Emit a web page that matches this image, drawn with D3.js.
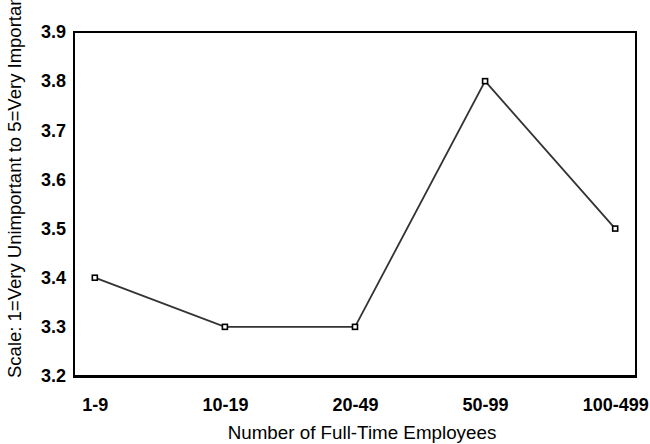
<!DOCTYPE html>
<html>
<head>
<meta charset="utf-8">
<style>
body { margin: 0; background: #fff; }
svg { display: block; font-family: "Liberation Sans", Arial, sans-serif; }
</style>
</head>
<body>
<svg width="650" height="444"></svg>
<script src="https://cdn.jsdelivr.net/npm/d3@7"></script>
<script>
var categories = ["1-9", "10-19", "20-49", "50-99", "100-499"];
var values = [3.4, 3.3, 3.3, 3.8, 3.5];
var yTicks = [3.2, 3.3, 3.4, 3.5, 3.6, 3.7, 3.8, 3.9];

var svg = d3.select("svg"),
    margin = {top: 32, right: 14, bottom: 68, left: 74},
    width = +svg.attr("width") - margin.left - margin.right,
    height = +svg.attr("height") - margin.top - margin.bottom,
    g = svg.append("g").attr("transform", "translate(" + margin.left + "," + margin.top + ")");

var x = d3.scalePoint()
    .domain(categories)
    .range([0, width])
    .padding(0.16);

var y = d3.scaleLinear()
    .domain([3.2, 3.9])
    .range([height, 0]);

// frame
g.append("rect")
    .attr("width", width)
    .attr("height", height)
    .attr("fill", "none")
    .attr("stroke", "#000")
    .attr("stroke-width", 2);
g.append("line")
    .attr("x1", -1).attr("x2", width + 1)
    .attr("y1", height + 0.5).attr("y2", height + 0.5)
    .attr("stroke", "#000")
    .attr("stroke-width", 3);

// y axis labels
var yAxis = g.append("g")
    .call(d3.axisLeft(y).tickValues(yTicks).tickFormat(d3.format(".1f")).tickSize(0).tickPadding(8));
yAxis.select(".domain").remove();
yAxis.selectAll("text")
    .attr("font-size", 18)
    .attr("font-weight", "bold")
    .attr("fill", "#000")
    .attr("font-family", "'Liberation Sans', Arial, sans-serif");

// x axis labels
var xAxis = g.append("g")
    .attr("transform", "translate(0," + height + ")")
    .call(d3.axisBottom(x).tickSize(0).tickPadding(22));
xAxis.select(".domain").remove();
xAxis.selectAll("text")
    .attr("font-size", 18)
    .attr("font-weight", "bold")
    .attr("fill", "#000")
    .attr("font-family", "'Liberation Sans', Arial, sans-serif");

// line
var line = d3.line()
    .x(function(d, i) { return x(categories[i]); })
    .y(function(d) { return y(d); });

g.append("path")
    .datum(values)
    .attr("fill", "none")
    .attr("stroke", "#333")
    .attr("stroke-width", 1.8)
    .attr("d", line);

g.selectAll(".marker")
    .data(values)
    .enter().append("rect")
      .attr("class", "marker")
      .attr("x", function(d, i) { return x(categories[i]) - 2.5; })
      .attr("y", function(d) { return y(d) - 2.5; })
      .attr("width", 5)
      .attr("height", 5)
      .attr("fill", "#fff")
      .attr("stroke", "#000")
      .attr("stroke-width", 1.6);

// axis titles
svg.append("text")
    .attr("x", 362)
    .attr("y", 439)
    .attr("text-anchor", "middle")
    .attr("font-size", 18.8)
    .attr("fill", "#000")
    .text("Number of Full-Time Employees");

svg.append("text")
    .attr("transform", "translate(21,378) rotate(-90)")
    .attr("text-anchor", "start")
    .attr("font-size", 18.5)
    .attr("fill", "#000")
    .text("Scale: 1=Very Unimportant to 5=Very Important");
</script>
</body>
</html>
